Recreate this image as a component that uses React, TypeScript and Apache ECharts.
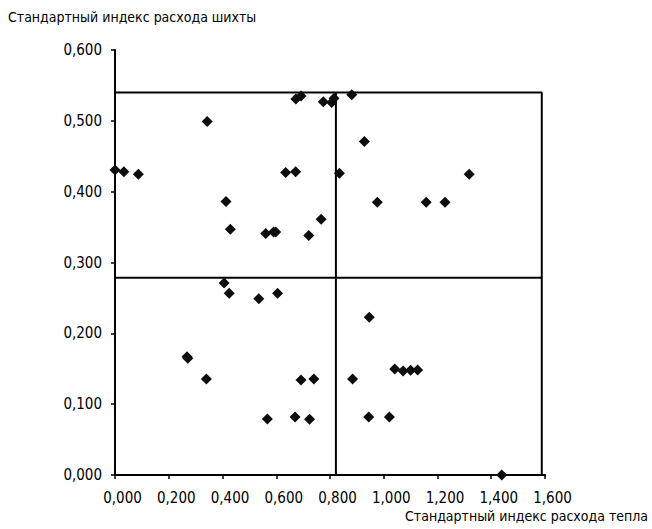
import React, { useEffect, useRef } from "react";
import * as echarts from "echarts";

// Scatter points: x = standard heat index, y = standard charge index
const xValues = [
  0.0, 0.033, 0.087, 0.343, 0.413, 0.429, 0.561, 0.59, 0.598, 0.635, 0.672, 0.673, 0.692,
  0.721, 0.767, 0.775, 0.806, 0.815, 0.881, 0.928, 0.835, 0.976, 1.158, 1.228, 1.318,
  0.406, 0.425, 0.535, 0.605, 0.268, 0.271, 0.34, 0.567, 0.67, 0.724, 0.692, 0.74,
  0.946, 0.884, 1.041, 1.072, 1.1, 1.126, 0.944, 1.021, 1.439,
];
const yValues = [
  0.4306, 0.428, 0.4245, 0.499, 0.386, 0.347, 0.341, 0.343, 0.343, 0.427, 0.428, 0.531, 0.535,
  0.338, 0.361, 0.527, 0.526, 0.532, 0.537, 0.471, 0.426, 0.385, 0.385, 0.385, 0.4245,
  0.271, 0.2565, 0.249, 0.2565, 0.167, 0.165, 0.1355, 0.079, 0.082, 0.0786, 0.134, 0.1355,
  0.2226, 0.1355, 0.1497, 0.1468, 0.1478, 0.1482, 0.082, 0.082, 0.0,
];

// Quadrant frame values
const boxTop = 0.54;
const boxRight = 1.588;
const meanX = 0.822;
const meanY = 0.2786;

const xTitle = "Стандартный индекс расхода тепла";
const yTitle = "Стандартный индекс расхода шихты";

const FONT = "'DejaVu Sans Condensed', 'Liberation Sans Narrow', sans-serif";

const fmt = (v: number) => v.toFixed(3).replace(".", ",");

export default function App() {
  const ref = useRef<HTMLDivElement>(null);
  useEffect(() => {
    if (!ref.current) return;
    const chart = echarts.init(ref.current, undefined, { renderer: "svg" });
    const points = xValues.map((x, i) => [x, yValues[i]]);
    const lineStyle = { color: "#000", width: 2 };
    const lineSeries = (data: number[][]) => ({
      type: "line",
      data,
      showSymbol: false,
      symbol: "none",
      lineStyle,
      silent: true,
      z: 1,
    });
    chart.setOption({
      animation: false,
      backgroundColor: "#fff",
      textStyle: { fontFamily: FONT },
      grid: { left: 115, right: 107, top: 50, bottom: 54, containLabel: false },
      xAxis: {
        type: "value",
        min: 0,
        max: 1.6,
        interval: 0.2,
        axisLine: { show: true, onZero: false, lineStyle: { color: "#000", width: 2 } },
        axisTick: { show: true, length: 4, lineStyle: { color: "#000", width: 1.5 } },
        splitLine: { show: false },
        axisLabel: {
          formatter: fmt,
          color: "#000",
          fontSize: 15,
          fontFamily: FONT,
          margin: 15,
          padding: [0, 0, 0, 15],
        },
      },
      yAxis: {
        type: "value",
        min: 0,
        max: 0.6,
        interval: 0.1,
        axisLine: { show: true, onZero: false, lineStyle: { color: "#000", width: 2 } },
        axisTick: { show: true, length: 4, lineStyle: { color: "#000", width: 1.5 } },
        splitLine: { show: false },
        axisLabel: {
          formatter: fmt,
          color: "#000",
          fontSize: 15,
          fontFamily: FONT,
          margin: 13,
        },
      },
      graphic: [
        {
          type: "text",
          left: 8,
          top: 10,
          style: { text: yTitle, fontSize: 14, fontFamily: FONT, fill: "#000" },
        },
        {
          type: "text",
          right: 4,
          top: 509,
          style: { text: xTitle, fontSize: 14, fontFamily: FONT, fill: "#000" },
        },
      ],
      series: [
        lineSeries([[0, boxTop], [boxRight, boxTop], [boxRight, 0]]),
        lineSeries([[0, meanY], [boxRight, meanY]]),
        lineSeries([[meanX, 0], [meanX, boxTop]]),
        {
          type: "scatter",
          data: points,
          symbol: "diamond",
          symbolSize: 11,
          itemStyle: { color: "#0d0d0d", opacity: 1 },
          z: 3,
        },
      ],
    });
    return () => chart.dispose();
  }, []);
  return (
    <div
      ref={ref}
      style={{ position: "fixed", left: 0, top: 0, width: 652, height: 529, background: "#fff" }}
    />
  );
}
